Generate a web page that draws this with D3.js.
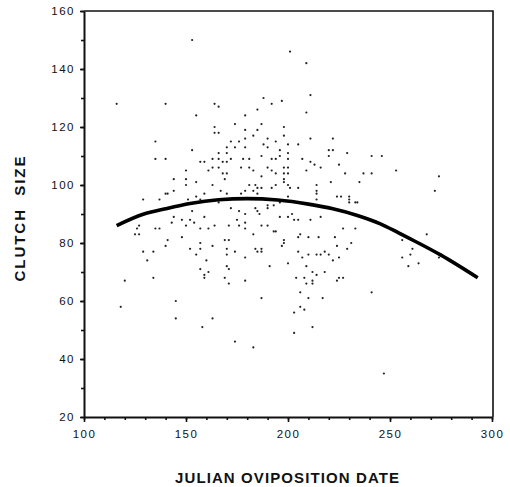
<!DOCTYPE html>
<html>
<head>
<meta charset="utf-8">
<script src="https://cdn.jsdelivr.net/npm/d3@7"></script>
<style>
  body { margin: 0; background: #fff; }
  svg { display: block; font-family: "Liberation Sans", Arial, Helvetica, sans-serif; }
  .axis .domain { stroke: #111; stroke-width: 2; }
  .axis .tick line { stroke: #111; stroke-width: 1.6; }
  .axis text { font-size: 11.5px; fill: #111; letter-spacing: 1.5px; }
  .title { font-weight: bold; font-size: 15px; fill: #111; }
</style>
</head>
<body>
<div id="chart"></div>
<script>
const width = 510,
      height = 487;

// [julian oviposition date, clutch size]
const nests = [
  [153,150],[116,128],[140,128],[164,128],[166,127],[155,124],[164,120],[164,118],[166,118],[135,115],
  [153,112],[170,113],[166,111],[170,111],[135,109],[140,109],[163,109],[166,109],
  [201,146],[209,142],[211,131],[188,130],[197,129],[192,128],[185,126],[209,125],[179,124],[174,121],
  [187,121],[198,120],[179,119],[185,119],[198,117],[183,117],[179,116],[190,116],[211,116],[222,116],
  [172,115],[176,115],[194,115],[188,114],[200,114],[205,114],[174,113],[179,113],[190,113],[196,112],
  [220,112],[222,112],[229,111],[200,111],[187,110],[196,110],[220,110],[172,109],[178,109],[181,109],
  [192,109],[194,109],[200,109],[207,109],
  [150,105],[157,108],[159,108],[161,105],[163,106],[166,106],[168,108],[170,108],[168,104],[170,104],
  [144,102],[150,102],[155,101],[150,100],[163,100],[169,102],[144,98],[140,97],[141,97],[129,95],
  [137,95],[159,97],[155,96],[157,95],[167,98],[170,97],[151,95],[166,94],[153,91],[144,89],
  [159,89],[143,87],[148,88],[152,88],[154,87],[150,86],[157,85],[161,85],[164,86],[127,86],
  [126,85],[135,85],[137,85],[125,83],[127,83],[148,82],[141,81],[169,81],[157,80],[140,79],
  [152,78],[157,78],[163,79],[170,78],[129,77],[134,77],[155,76],[170,76],[131,74],[160,74],
  [170,72],[157,71],[161,70],[159,69],[159,68],[134,68],[169,68],[120,67],
  [118,58],[145,60],[145,54],[158,51],[163,54],[174,46],[183,44],[171,66],[171,71],[174,77],
  [179,75],[179,67],
  [177,106],[181,106],[183,105],[190,106],[192,105],[198,106],[200,106],[198,104],[200,104],[194,104],
  [187,103],[211,108],[213,107],[216,106],[209,105],[225,107],[228,104],[198,102],[181,100],[184,100],
  [185,99],[187,99],[192,99],[194,100],[198,101],[200,100],[201,99],[214,100],[214,98],[214,97],
  [214,95],[221,101],[205,99],[179,98],[177,97],[183,98],[185,97],[200,96],[224,96],[226,96],
  [230,96],[230,95],[230,94],[233,94],[234,94],[190,93],[190,92],[193,93],[196,94],[184,92],
  [185,91],[186,90],[172,92],[176,91],[179,90],[202,90],[196,89],[200,89],[203,88],[205,88],
  [211,88],[216,89],[171,86],[175,88],[176,86],[179,87],[179,85],[187,86],[190,86],[193,84],
  [194,84],[183,83],[227,85],[233,85],[206,83],[205,82],[210,82],[215,82],[223,82],[171,81],
  [198,81],[198,80],[197,79],[224,79],[231,80],[229,78],[184,78],[187,78],[185,77],[187,77],
  [205,77],[207,75],[210,76],[214,76],[216,76],[218,77],[220,76],[225,75],[222,74],[200,73],
  [191,72],[209,72],[212,70],[218,70],[204,68],[208,68],[214,69],[209,66],[212,67],[212,66],
  [225,68],[224,67],[227,68],
  [187,61],[206,63],[206,58],[208,57],[203,56],[210,61],[217,61],[212,51],[203,49],[241,63],
  [247,35],[256,81],[261,78],[260,76],[256,75],[259,72],[264,73],[274,75],
  [241,110],[246,110],[241,104],[237,104],[235,101],[253,105],[274,103],[272,98],[268,83],[255,83]
];

// fitted curve, read at points along its length
const fitDays   = [116, 129, 140, 152, 166, 180, 195, 210, 222, 234, 245, 254, 262, 275, 293];
const fitClutch = [86, 89.9, 91.8, 93.6, 94.9, 95.3, 94.8, 93.4, 91.8, 89.5, 86.7, 83.6, 80.7, 75.8, 68];

const xTicks = [100, 150, 200, 250, 300];
const xMinorTicks = d3.range(100, 301, 10);
const yTicks = [20, 40, 60, 80, 100, 120, 140, 160];
const yMinorTicks = d3.range(20, 161, 10);

const svg = d3.select('#chart').append('svg')
    .attr('width', width)
    .attr('height', height);

const x = d3.scaleLinear()
    .domain([100, 300])
    .range([84, 492]);

const y = d3.scaleLinear()
    .domain([20, 160])
    .range([417, 11]);

// frame (top and right sides)
svg.append('path')
    .attr('d', `M${x(100)},${y(160)}H${x(300) + 1}V${y(20)}`)
    .attr('fill', 'none')
    .attr('stroke', '#111')
    .attr('stroke-width', 1.6);

// minor ticks
svg.append('g')
    .attr('class', 'axis')
    .attr('transform', `translate(0,${y(20)})`)
    .call(d3.axisBottom(x).tickValues(xMinorTicks).tickSize(3).tickFormat(''))
    .select('.domain').remove();

svg.append('g')
    .attr('class', 'axis')
    .attr('transform', `translate(${x(100)},0)`)
    .call(d3.axisLeft(y).tickValues(yMinorTicks).tickSize(3).tickFormat(''))
    .select('.domain').remove();

// major ticks + labels
svg.append('g')
    .attr('class', 'axis')
    .attr('transform', `translate(0,${y(20)})`)
    .call(d3.axisBottom(x).tickValues(xTicks).tickSize(5).tickSizeOuter(0).tickPadding(8));

svg.append('g')
    .attr('class', 'axis')
    .attr('transform', `translate(${x(100)},0)`)
    .call(d3.axisLeft(y).tickValues(yTicks).tickSize(4).tickSizeOuter(0).tickPadding(5));

// points
svg.append('g')
  .selectAll('circle')
  .data(nests)
  .enter().append('circle')
    .attr('cx', d => x(d[0]))
    .attr('cy', d => y(d[1]))
    .attr('r', 1.1)
    .attr('fill', '#222');

// fitted curve
const line = d3.line()
    .x(d => x(d[0]))
    .y(d => y(d[1]))
    .curve(d3.curveMonotoneX);

svg.append('path')
    .datum(d3.zip(fitDays, fitClutch))
    .attr('d', line)
    .attr('fill', 'none')
    .attr('stroke', '#000')
    .attr('stroke-width', 3.6)
    .attr('stroke-linecap', 'butt');

// titles
svg.append('text')
    .attr('class', 'title')
    .attr('x', 287)
    .attr('y', 483)
    .attr('text-anchor', 'middle')
    .attr('textLength', 224)
    .attr('lengthAdjust', 'spacing')
    .text('JULIAN OVIPOSITION DATE');

svg.append('text')
    .attr('class', 'title')
    .attr('transform', 'translate(25,219) rotate(-90)')
    .attr('text-anchor', 'middle')
    .attr('textLength', 125)
    .attr('lengthAdjust', 'spacing')
    .text('CLUTCH  SIZE')
    .style('white-space', 'pre');
</script>
</body>
</html>
